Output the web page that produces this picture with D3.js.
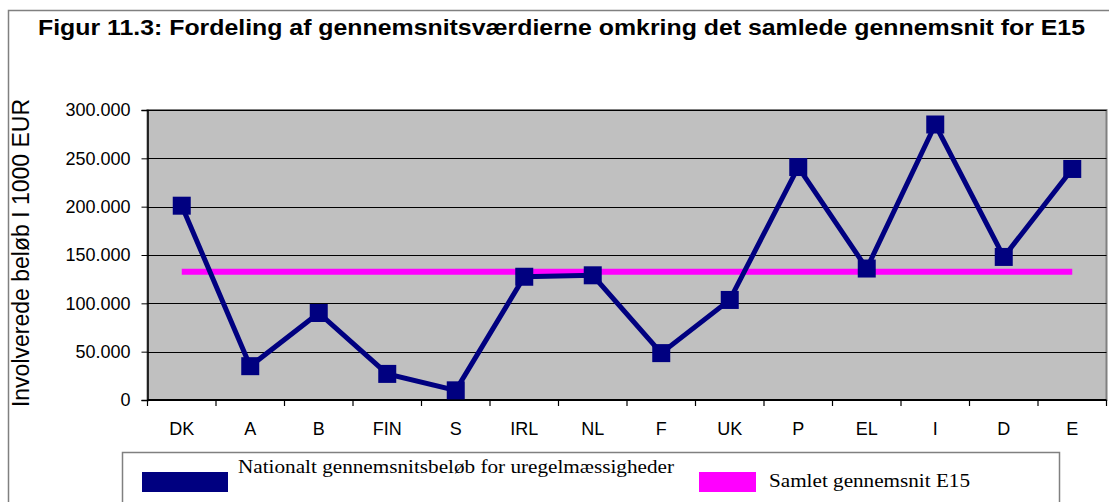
<!DOCTYPE html>
<html>
<head>
<meta charset="utf-8">
<script src="https://cdn.jsdelivr.net/npm/d3@7"></script>
<style>
  body { margin: 0; background: #fff; }
  svg { display: block; }
</style>
</head>
<body>
<div id="chart"></div>
<script>
// data
const countries = ["DK","A","B","FIN","S","IRL","NL","F","UK","P","EL","I","D","E"];
const nationalAvg = [201000,35000,90000,27000,10000,127500,129000,48500,103500,241000,136000,285000,148000,239000];
const overallAvg = 132700;
const yTicks = [0,50000,100000,150000,200000,250000,300000];

const titleText = "Figur 11.3: Fordeling af gennemsnitsværdierne omkring det samlede gennemsnit for E15";
const yLabel = "Involverede beløb I 1000 EUR";
const legendNames = ["Nationalt gennemsnitsbeløb for uregelmæssigheder", "Samlet gennemsnit E15"];

const W = 1109, H = 502;
const plot = {left:147.5, right:1106.5, top:110, bottom:400};

const svg = d3.select("#chart").append("svg")
  .attr("width", W).attr("height", H);

// outer frame
svg.append("rect")
  .attr("x", 8.5).attr("y", 10.5)
  .attr("width", W + 10).attr("height", H + 10)
  .attr("fill", "#fff").attr("stroke", "#808080").attr("stroke-width", 1.5);

svg.append("text")
  .attr("x", 38).attr("y", 35)
  .attr("font-family", "Liberation Sans, Arial, sans-serif")
  .attr("font-weight", "bold").attr("font-size", 22)
  .attr("textLength", 1047).attr("lengthAdjust", "spacingAndGlyphs")
  .text(titleText);

const x = d3.scaleBand().domain(countries).range([plot.left, plot.right]);
const y = d3.scaleLinear().domain([0, 300000]).range([plot.bottom, plot.top]);
const cx = d => x(d) + x.bandwidth() / 2;

// plot area
svg.append("rect")
  .attr("x", plot.left).attr("y", plot.top)
  .attr("width", plot.right - plot.left).attr("height", plot.bottom - plot.top)
  .attr("fill", "#c0c0c0").attr("stroke", "#808080").attr("stroke-width", 2);

svg.append("g").selectAll("line")
  .data(yTicks.slice(1))
  .join("line")
    .attr("x1", plot.left).attr("x2", plot.right)
    .attr("y1", d => Math.round(y(d)) + 0.5).attr("y2", d => Math.round(y(d)) + 0.5)
    .attr("stroke", "#000").attr("stroke-width", 1);

// y axis
const fmt = d => d === 0 ? "0" : d3.format(",")(d).replace(/,/g, ".");
const yAxis = svg.append("g")
  .attr("transform", `translate(${plot.left},0)`)
  .call(d3.axisLeft(y).tickValues(yTicks).tickFormat(fmt).tickSize(6).tickPadding(11));
yAxis.select(".domain").attr("stroke", "#000").attr("stroke-width", 1.5);
yAxis.selectAll("text")
  .attr("font-family", "Liberation Sans, Arial, sans-serif")
  .attr("font-size", 18).attr("fill", "#000");

// x axis
const xAxis = svg.append("g").attr("transform", `translate(0,${plot.bottom})`);
xAxis.append("line")
  .attr("x1", plot.left).attr("x2", plot.right)
  .attr("stroke", "#000").attr("stroke-width", 2);
xAxis.selectAll(".tk")
  .data(countries.concat(["__end"]))
  .join("line")
    .attr("class", "tk")
    .attr("x1", (d, i) => i < countries.length ? x(d) : plot.right)
    .attr("x2", (d, i) => i < countries.length ? x(d) : plot.right)
    .attr("y1", 0).attr("y2", 6)
    .attr("stroke", "#000").attr("stroke-width", 1.2);
xAxis.selectAll(".lbl")
  .data(countries)
  .join("text")
    .attr("class", "lbl")
    .attr("x", d => cx(d)).attr("y", 35)
    .attr("text-anchor", "middle")
    .attr("font-family", "Liberation Sans, Arial, sans-serif")
    .attr("font-size", 18)
    .text(d => d);

// y label
svg.append("text")
  .attr("transform", `translate(29,253) rotate(-90)`)
  .attr("text-anchor", "middle")
  .attr("font-family", "Liberation Sans, Arial, sans-serif")
  .attr("font-size", 23)
  .text(yLabel);

// overall average line
svg.append("line")
  .attr("x1", cx(countries[0])).attr("x2", cx(countries[countries.length - 1]))
  .attr("y1", y(overallAvg)).attr("y2", y(overallAvg))
  .attr("stroke", "#ff00ff").attr("stroke-width", 6);

// national series
const line = d3.line().x((d, i) => cx(countries[i])).y(d => y(d));
svg.append("path")
  .datum(nationalAvg)
  .attr("d", line)
  .attr("fill", "none")
  .attr("stroke", "#000080").attr("stroke-width", 5)
  .attr("stroke-linejoin", "miter");

svg.append("g").selectAll("rect")
  .data(nationalAvg)
  .join("rect")
    .attr("x", (d, i) => cx(countries[i]) - 9)
    .attr("y", d => y(d) - 9)
    .attr("width", 18).attr("height", 18)
    .attr("fill", "#000080");

// legend
const lg = svg.append("g");
lg.append("rect")
  .attr("x", 122.5).attr("y", 452.5)
  .attr("width", 937).attr("height", 80)
  .attr("fill", "#fff").attr("stroke", "#808080").attr("stroke-width", 1.5);
lg.append("rect")
  .attr("x", 142).attr("y", 472).attr("width", 86).attr("height", 20)
  .attr("fill", "#000080");
lg.append("rect")
  .attr("x", 699).attr("y", 472).attr("width", 57).attr("height", 20)
  .attr("fill", "#ff00ff");
lg.append("text")
  .attr("x", 238).attr("y", 473)
  .attr("font-family", "Liberation Serif, Times New Roman, serif")
  .attr("font-size", 19)
  .attr("textLength", 436).attr("lengthAdjust", "spacingAndGlyphs")
  .text(legendNames[0]);
lg.append("text")
  .attr("x", 769).attr("y", 487)
  .attr("font-family", "Liberation Serif, Times New Roman, serif")
  .attr("font-size", 19)
  .attr("textLength", 201).attr("lengthAdjust", "spacingAndGlyphs")
  .text(legendNames[1]);
</script>
</body>
</html>
